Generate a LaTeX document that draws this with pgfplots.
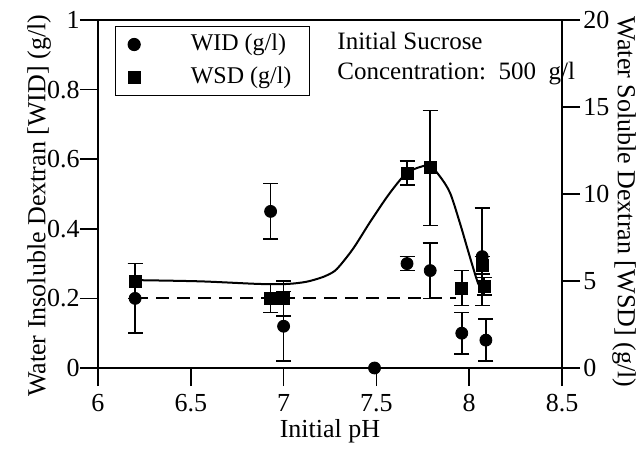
\documentclass[border=0pt]{standalone}
\usepackage{fontspec}
\setmainfont{Liberation Serif}
\usepackage{pgfplots}
\pgfplotsset{compat=1.18}

\pgfplotsset{
  common/.style={
    scale only axis, width=232pt, height=174pt,
    xmin=6, xmax=8.5,
    tick align=outside, major tick length=9pt,
    tick style={black, line width=0.8pt},
    axis line style={line width=1pt},
    ticklabel style={font=\fontsize{13}{15}\selectfont, inner sep=0pt},
    /pgf/number format/assume math mode=true,
    clip=false,
  },
  ebars/.style={
    /pgfplots/error bars/y dir=both,
    /pgfplots/error bars/y explicit,
    /pgfplots/error bars/error bar style={line width=0.8pt, black},
    /pgfplots/error bars/error mark options={rotate=90, mark size=3.75pt, line width=0.8pt, black},
  },
}

\begin{document}
\begin{tikzpicture}
\useasboundingbox (-49pt,-40.5pt) rectangle (269.5pt,184pt);

% left axis: WID
\begin{axis}[
    common,
    ymin=0, ymax=1,
    xtick={6,6.5,7,7.5,8,8.5},
    ytick={0,0.2,0.4,0.6,0.8,1},
    xtick pos=bottom, ytick pos=left,
    xticklabel shift=4pt, yticklabel shift=0pt,
    xlabel={Initial pH},
    ylabel={Water Insoluble Dextran [WID] (g/l)},
    every axis x label/.style={at={(axis description cs:0.5,-0.201)}, anchor=base, inner sep=0pt, font=\fontsize{13}{15}\selectfont},
    every axis y label/.style={at={(axis description cs:-0.127,0.466)}, rotate=90, anchor=center, inner sep=0pt, font=\fontsize{13}{15}\selectfont},
  ]
  % dashed line
  \addplot[black, line width=1pt, dash pattern=on 6.5pt off 4pt] coordinates {(6.2,0.2) (7.93,0.2)};

  % WID
  \addplot[only marks, mark=*, mark size=3pt, black, ebars] coordinates {
    (6.20,0.20) +- (0,0.10)
    (6.93,0.45) +- (0,0.08)
    (7.00,0.12) +- (0,0.10)
    (7.665,0.30) +- (0,0.02)
    (7.79,0.28) +- (0,0.08)
    (7.96,0.10) +- (0,0.06)
    (8.07,0.32) +- (0,0.14)
    (8.09,0.08) +- (0,0.06)
  };
  \addplot[only marks, mark=*, mark size=3pt, black] coordinates {(7.49,0.00)};

  \node[anchor=base west, inner sep=0pt, font=\fontsize{12.5}{15}\selectfont] at (axis cs:7.288,0.914) {Initial Sucrose};
  \node[anchor=base west, inner sep=0pt, font=\fontsize{12.5}{15}\selectfont] at (axis cs:7.288,0.828) {Concentration:\ \ 500\ \ g/l};
\end{axis}

% right axis: WSD
\begin{axis}[
    common,
    ymin=0, ymax=20,
    axis x line=none,
    axis y line*=right,
    ytick={0,5,10,15,20},
    yticklabel shift=1.5pt,
    ylabel={Water Soluble Dextran [WSD] (g/l)},
    every axis y label/.style={at={(axis description cs:1.134,0.477)}, rotate=-90, anchor=center, inner sep=0pt, font=\fontsize{13}{15}\selectfont},
    legend style={at={(axis description cs:0.0366,0.983)}, anchor=north west,
      draw=black, line width=0.6pt, inner xsep=0pt, inner ysep=3.5pt,
      row sep=5.5pt, cells={anchor=west},
      nodes={inner sep=0pt, text height=8.5pt, text depth=2.5pt},
      font=\fontsize{12}{14}\selectfont},
    legend image code/.code={\path (0pt,0pt) (37pt,0pt); \draw[#1] plot coordinates {(9pt,0pt)};},
  ]
  \addlegendimage{only marks, mark=*, mark size=3pt, black}
  \addlegendentry{\makebox[59.5pt][l]{WID (g/l)}}
  \addlegendimage{only marks, mark=square*, mark size=3pt, black}
  \addlegendentry{\makebox[59.5pt][l]{WSD (g/l)}}

  % fitted curve
  \addplot[black, line width=1pt, smooth, tension=0.5, forget plot] coordinates {
    (6.20,5.05) (6.55,4.98) (6.87,4.83) (7.02,4.83) (7.12,4.95) (7.196,5.17)
    (7.24,5.36) (7.288,5.70) (7.374,6.85) (7.466,8.39) (7.557,9.83) (7.627,10.80)
    (7.67,11.26) (7.735,11.55) (7.789,11.62) (7.843,11.0) (7.897,10.06) (7.95,8.33)
    (7.988,6.95) (8.02,5.80) (8.047,4.89) (8.07,4.48)
  };

  % WSD
  \addplot[only marks, mark=square*, mark size=3pt, black, forget plot, ebars] coordinates {
    (6.20,5.0) +- (0,1.0)
    (6.93,4.0) +- (0,0.8)
    (7.00,4.0) +- (0,1.0)
    (7.665,11.2) +- (0,0.7)
    (7.79,11.5) +- (0,3.3)
    (7.96,4.6) +- (0,1.0)
    (8.07,5.9) +- (0,0.5)
    (8.08,4.7) +- (0,0.5)
  };
\end{axis}
\end{tikzpicture}
\end{document}
